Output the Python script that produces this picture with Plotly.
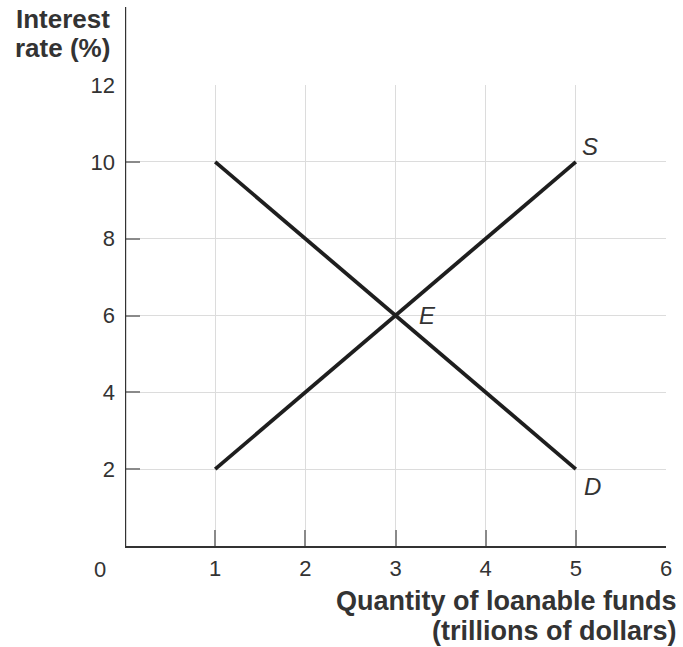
import plotly.graph_objects as go

supply_x = [1, 5]
supply_y = [2, 10]
demand_x = [1, 5]
demand_y = [10, 2]
x_ticks = [1, 2, 3, 4, 5, 6]
y_ticks = [2, 4, 6, 8, 10, 12]
point_labels = ["S", "D", "E"]
label_x = [5.16, 5.18, 3.35]
label_y = [10.41, 1.56, 6.01]

FONT = "Liberation Sans, Arial, sans-serif"
LINE = "#1e1e1e"
TXT = "#333333"

fig = go.Figure()
fig.add_trace(go.Scatter(x=supply_x, y=supply_y, mode="lines",
                         line=dict(color=LINE, width=3.8), hoverinfo="skip"))
fig.add_trace(go.Scatter(x=demand_x, y=demand_y, mode="lines",
                         line=dict(color=LINE, width=3.8), hoverinfo="skip"))

for t, x, y in zip(point_labels, label_x, label_y):
    fig.add_annotation(x=x, y=y, text=t, showarrow=False, xanchor="center", yanchor="middle",
                       font=dict(family=FONT, size=24, color=TXT, style="italic"))

fig.update_layout(
    width=683, height=647,
    margin=dict(l=125, r=17, t=85, b=101, pad=0),
    plot_bgcolor="white", paper_bgcolor="white",
    showlegend=False,
    font=dict(family=FONT, color=TXT, size=22),
    xaxis=dict(range=[0, 6], tickvals=x_ticks, ticktext=[str(v) for v in x_ticks],
               showgrid=True, gridcolor="#dcdcdc", gridwidth=1.2,
               showline=True, linecolor="#333333", linewidth=2.2,
               ticks="inside", ticklen=16, tickcolor="#8a8a8a", tickwidth=1.5,
               zeroline=False, ticklabelstandoff=1,
               tickfont=dict(family=FONT, size=22, color=TXT)),
    yaxis=dict(range=[0, 12], tickvals=y_ticks, ticktext=[str(v) for v in y_ticks],
               showgrid=True, gridcolor="#dcdcdc", gridwidth=1.2,
               showline=False,
               ticks="inside", ticklen=15, tickcolor="#8a8a8a", tickwidth=1.5,
               zeroline=False, ticklabelstandoff=9,
               tickfont=dict(family=FONT, size=22, color=TXT)),
)

# vertical axis line extending above the plot
fig.add_shape(type="line", xref="x", yref="paper", x0=0, x1=0, y0=0, y1=1.169,
              line=dict(color="#333333", width=2.4))

# origin label
fig.add_annotation(xref="paper", yref="paper", x=-0.046, y=-0.052, text="0", showarrow=False,
                   xanchor="center", yanchor="middle",
                   font=dict(family=FONT, size=22, color=TXT))

# y axis title (two lines)
for txt, yy in [("Interest", 1.143), ("rate (%)", 1.080)]:
    fig.add_annotation(xref="paper", yref="paper", x=-0.024, y=yy, text=txt,
                       showarrow=False, xanchor="right", yanchor="middle", align="right",
                       font=dict(family=FONT, size=26, color=TXT, weight="bold"))

# x axis title (two lines)
for txt, yy in [("Quantity of loanable funds", -0.119), ("(trillions of dollars)", -0.184)]:
    fig.add_annotation(xref="paper", yref="paper", x=1.024, y=yy, text=txt,
                       showarrow=False, xanchor="right", yanchor="middle", align="right",
                       font=dict(family=FONT, size=27, color=TXT, weight="bold"))

fig.write_html("out.html", config={"displayModeBar": False},
               post_script="document.body.style.margin='0';document.body.style.overflow='hidden';")
